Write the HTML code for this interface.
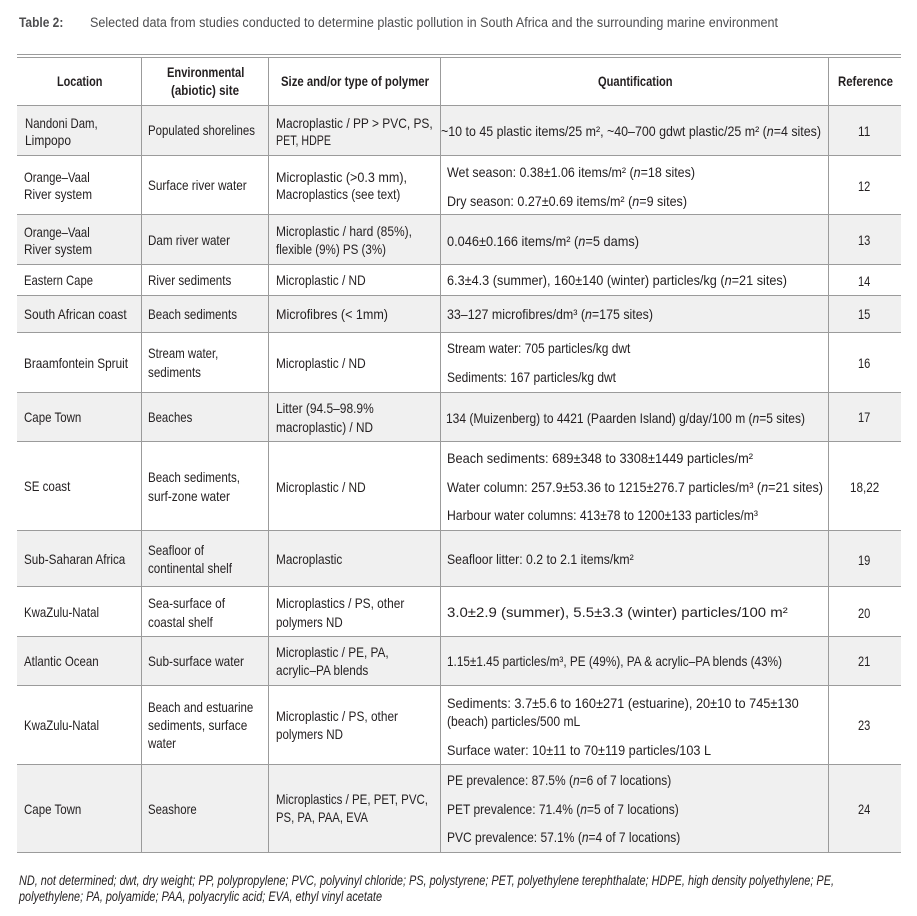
<!DOCTYPE html>
<html><head><meta charset="utf-8">
<style>
html,body{margin:0;padding:0;}
body{width:917px;height:916px;position:relative;overflow:hidden;background:#fff;font-family:"Liberation Sans",Arial,sans-serif;color:#231f20;}
.t{position:absolute;white-space:nowrap;font-size:14px;line-height:16px;transform-origin:0 50%;transform:scaleX(0.82);}
.b{font-weight:bold;}
.h{position:absolute;left:17px;width:884px;height:1px;background:#9b9b9b;}
.v{position:absolute;top:57px;height:795px;width:1px;background:#9b9b9b;}
.g{position:absolute;left:17px;width:884px;background:#f0f0f0;}
.fn{font-size:13.5px;font-style:italic;}
.ti{color:#4d4d4f;font-size:13.5px;}
</style></head><body>
<!-- gray rows -->
<div class="g" style="top:105px;height:50px"></div>
<div class="g" style="top:214px;height:50px"></div>
<div class="g" style="top:295px;height:37px"></div>
<div class="g" style="top:392px;height:49px"></div>
<div class="g" style="top:530px;height:56px"></div>
<div class="g" style="top:636px;height:49px"></div>
<div class="g" style="top:764px;height:88px"></div>
<!-- horizontal rules -->
<div class="h" style="top:54px"></div>
<div class="h" style="top:57px"></div>
<div class="h" style="top:105px"></div>
<div class="h" style="top:155px"></div>
<div class="h" style="top:214px"></div>
<div class="h" style="top:264px"></div>
<div class="h" style="top:295px"></div>
<div class="h" style="top:332px"></div>
<div class="h" style="top:392px"></div>
<div class="h" style="top:441px"></div>
<div class="h" style="top:530px"></div>
<div class="h" style="top:586px"></div>
<div class="h" style="top:636px"></div>
<div class="h" style="top:685px"></div>
<div class="h" style="top:764px"></div>
<div class="h" style="top:852px"></div>
<!-- vertical rules -->
<div class="v" style="left:141px"></div>
<div class="v" style="left:268px"></div>
<div class="v" style="left:440px"></div>
<div class="v" style="left:828px"></div>

<!-- title -->
<div class="t b ti" style="left:19px;top:15px;--w:44.3">Table 2:</div>
<div class="t ti" style="left:90px;top:15px;--w:688">Selected data from studies conducted to determine plastic pollution in South Africa and the surrounding marine environment</div>

<!-- header -->
<div class="t b" style="left:57.3px;top:73px;--w:45.4">Location</div>
<div class="t b" style="left:166.7px;top:63.7px;--w:77.3">Environmental</div>
<div class="t b" style="left:171px;top:82px;--w:68">(abiotic) site</div>
<div class="t b" style="left:281px;top:73px;--w:148">Size and/or type of polymer</div>
<div class="t b" style="left:597.7px;top:73px;--w:74.6">Quantification</div>
<div class="t b" style="left:837.7px;top:73px;--w:55">Reference</div>

<!-- row 1 -->
<div class="t" style="left:25px;top:114.7px;--w:72.7">Nandoni Dam,</div>
<div class="t" style="left:25px;top:132px;--w:46">Limpopo</div>
<div class="t" style="left:148.3px;top:122px;--w:107">Populated shorelines</div>
<div class="t" style="left:275.7px;top:114.7px;--w:156.7">Macroplastic / PP &gt; PVC, PS,</div>
<div class="t" style="left:275.7px;top:132px;--w:55">PET, HDPE</div>
<div class="t" style="left:441px;top:123px;--w:380">~10 to 45 plastic items/25 m², ~40–700 gdwt plastic/25 m² (<i>n</i>=4 sites)</div>
<div class="t" style="left:858px;top:123px;--w:12.3">11</div>

<!-- row 2 -->
<div class="t" style="left:24.3px;top:168.7px;--w:65.7">Orange–Vaal</div>
<div class="t" style="left:24.3px;top:186.3px;--w:68">River system</div>
<div class="t" style="left:148px;top:177px;--w:98.7">Surface river water</div>
<div class="t" style="left:275.7px;top:168.7px;--w:131">Microplastic (&gt;0.3 mm),</div>
<div class="t" style="left:275.7px;top:186.3px;--w:124.3">Macroplastics (see text)</div>
<div class="t" style="left:446.7px;top:163.7px;--w:248">Wet season: 0.38±1.06 items/m² (<i>n</i>=18 sites)</div>
<div class="t" style="left:446.7px;top:192.7px;--w:240">Dry season: 0.27±0.69 items/m² (<i>n</i>=9 sites)</div>
<div class="t" style="left:858px;top:177.7px;--w:12.3">12</div>

<!-- row 3 -->
<div class="t" style="left:24.3px;top:223.7px;--w:65.7">Orange–Vaal</div>
<div class="t" style="left:24.3px;top:241.3px;--w:68">River system</div>
<div class="t" style="left:148px;top:232px;--w:82">Dam river water</div>
<div class="t" style="left:275.7px;top:223px;--w:136">Microplastic / hard (85%),</div>
<div class="t" style="left:275.7px;top:241.3px;--w:110">flexible (9%) PS (3%)</div>
<div class="t" style="left:446.7px;top:232.7px;--w:192">0.046±0.166 items/m² (<i>n</i>=5 dams)</div>
<div class="t" style="left:858px;top:232px;--w:12.3">13</div>

<!-- row 4 -->
<div class="t" style="left:24.3px;top:272px;--w:69">Eastern Cape</div>
<div class="t" style="left:148px;top:272px;--w:83.3">River sediments</div>
<div class="t" style="left:275.7px;top:272px;--w:89.7">Microplastic / ND</div>
<div class="t" style="left:446.7px;top:272px;--w:340">6.3±4.3 (summer), 160±140 (winter) particles/kg (<i>n</i>=21 sites)</div>
<div class="t" style="left:858px;top:272.7px;--w:12.3">14</div>

<!-- row 5 -->
<div class="t" style="left:24.3px;top:306px;--w:102.7">South African coast</div>
<div class="t" style="left:148px;top:306px;--w:89">Beach sediments</div>
<div class="t" style="left:275.7px;top:306px;--w:112">Microfibres (&lt; 1mm)</div>
<div class="t" style="left:446.7px;top:306px;--w:206">33–127 microfibres/dm³ (<i>n</i>=175 sites)</div>
<div class="t" style="left:858px;top:306px;--w:12.3">15</div>

<!-- row 6 -->
<div class="t" style="left:24.3px;top:355.3px;--w:104">Braamfontein Spruit</div>
<div class="t" style="left:148px;top:345.3px;--w:70.3">Stream water,</div>
<div class="t" style="left:148px;top:363.7px;--w:53">sediments</div>
<div class="t" style="left:275.7px;top:355px;--w:89.7">Microplastic / ND</div>
<div class="t" style="left:446.7px;top:340.3px;--w:183.3">Stream water: 705 particles/kg dwt</div>
<div class="t" style="left:446.7px;top:369.3px;--w:169">Sediments: 167 particles/kg dwt</div>
<div class="t" style="left:858px;top:355.3px;--w:12.3">16</div>

<!-- row 7 -->
<div class="t" style="left:24.3px;top:409.3px;--w:57.3">Cape Town</div>
<div class="t" style="left:148px;top:409.3px;--w:44.3">Beaches</div>
<div class="t" style="left:275.7px;top:400.3px;--w:97.7">Litter (94.5–98.9%</div>
<div class="t" style="left:275.7px;top:418.7px;--w:97">macroplastic) / ND</div>
<div class="t" style="left:445.7px;top:409.7px;--w:359">134 (Muizenberg) to 4421 (Paarden Island) g/day/100 m (<i>n</i>=5 sites)</div>
<div class="t" style="left:858px;top:408.7px;--w:12.3">17</div>

<!-- row 8 -->
<div class="t" style="left:24.3px;top:478px;--w:46.3">SE coast</div>
<div class="t" style="left:148px;top:469.3px;--w:92">Beach sediments,</div>
<div class="t" style="left:148px;top:488px;--w:82">surf-zone water</div>
<div class="t" style="left:275.7px;top:478.7px;--w:89.7">Microplastic / ND</div>
<div class="t" style="left:446.7px;top:450.3px;--w:306">Beach sediments: 689±348 to 3308±1449 particles/m²</div>
<div class="t" style="left:446.7px;top:478.7px;--w:376">Water column: 257.9±53.36 to 1215±276.7 particles/m³ (<i>n</i>=21 sites)</div>
<div class="t" style="left:446.7px;top:507px;--w:311">Harbour water columns: 413±78 to 1200±133 particles/m³</div>
<div class="t" style="left:850px;top:479px;--w:29.3">18,22</div>

<!-- row 9 -->
<div class="t" style="left:24.3px;top:551px;--w:101.3">Sub-Saharan Africa</div>
<div class="t" style="left:148px;top:542px;--w:56">Seafloor of</div>
<div class="t" style="left:148px;top:560.3px;--w:84">continental shelf</div>
<div class="t" style="left:275.7px;top:551px;--w:66.3">Macroplastic</div>
<div class="t" style="left:446.7px;top:551px;--w:186.7">Seafloor litter: 0.2 to 2.1 items/km²</div>
<div class="t" style="left:858px;top:552px;--w:12.3">19</div>

<!-- row 10 -->
<div class="t" style="left:24.3px;top:604.3px;--w:75">KwaZulu-Natal</div>
<div class="t" style="left:148px;top:595.3px;--w:77">Sea-surface of</div>
<div class="t" style="left:148px;top:613.7px;--w:64.7">coastal shelf</div>
<div class="t" style="left:275.7px;top:595.3px;--w:128.3">Microplastics / PS, other</div>
<div class="t" style="left:275.7px;top:613.7px;--w:66.7">polymers ND</div>
<div class="t" style="left:446.7px;top:604.3px;--w:340.7">3.0±2.9 (summer), 5.5±3.3 (winter) particles/100 m²</div>
<div class="t" style="left:858px;top:604.7px;--w:12.3">20</div>

<!-- row 11 -->
<div class="t" style="left:24.3px;top:653px;--w:74.7">Atlantic Ocean</div>
<div class="t" style="left:148px;top:653px;--w:96">Sub-surface water</div>
<div class="t" style="left:275.7px;top:644.3px;--w:112.7">Microplastic / PE, PA,</div>
<div class="t" style="left:275.7px;top:662px;--w:92.3">acrylic–PA blends</div>
<div class="t" style="left:446.7px;top:653px;--w:335">1.15±1.45 particles/m³, PE (49%), PA &amp; acrylic–PA blends (43%)</div>
<div class="t" style="left:858px;top:653px;--w:12.3">21</div>

<!-- row 12 -->
<div class="t" style="left:24.3px;top:717px;--w:75">KwaZulu-Natal</div>
<div class="t" style="left:148px;top:698.7px;--w:105.3">Beach and estuarine</div>
<div class="t" style="left:148px;top:717px;--w:99.3">sediments, surface</div>
<div class="t" style="left:148px;top:735.3px;--w:28">water</div>
<div class="t" style="left:275.7px;top:708px;--w:122">Microplastic / PS, other</div>
<div class="t" style="left:275.7px;top:726px;--w:67">polymers ND</div>
<div class="t" style="left:446.7px;top:694.7px;--w:351.7">Sediments: 3.7±5.6 to 160±271 (estuarine), 20±10 to 745±130</div>
<div class="t" style="left:446.7px;top:713px;--w:133.3">(beach) particles/500 mL</div>
<div class="t" style="left:446.7px;top:742px;--w:264">Surface water: 10±11 to 70±119 particles/103 L</div>
<div class="t" style="left:858px;top:717px;--w:12.3">23</div>

<!-- row 13 -->
<div class="t" style="left:24.3px;top:801.3px;--w:57.3">Cape Town</div>
<div class="t" style="left:148px;top:801.3px;--w:48.7">Seashore</div>
<div class="t" style="left:275.7px;top:791px;--w:152">Microplastics / PE, PET, PVC,</div>
<div class="t" style="left:275.7px;top:809.3px;--w:92">PS, PA, PAA, EVA</div>
<div class="t" style="left:446.7px;top:772px;--w:224.3">PE prevalence: 87.5% (<i>n</i>=6 of 7 locations)</div>
<div class="t" style="left:446.7px;top:801.3px;--w:231.7">PET prevalence: 71.4% (<i>n</i>=5 of 7 locations)</div>
<div class="t" style="left:446.7px;top:828.7px;--w:233.3">PVC prevalence: 57.1% (<i>n</i>=4 of 7 locations)</div>
<div class="t" style="left:858px;top:801.3px;--w:12.3">24</div>

<!-- footnote -->
<div class="t fn" style="left:19px;top:872.7px;--w:815">ND, not determined; dwt, dry weight; PP, polypropylene; PVC, polyvinyl chloride; PS, polystyrene; PET, polyethylene terephthalate; HDPE, high density polyethylene; PE,</div>
<div class="t fn" style="left:19px;top:889.3px;--w:363">polyethylene; PA, polyamide; PAA, polyacrylic acid; EVA, ethyl vinyl acetate</div>

<script>
(function(){
  var els=document.querySelectorAll('.t');
  for(var i=0;i<els.length;i++){
    var el=els[i];
    var w=parseFloat(el.style.getPropertyValue('--w'));
    if(!w) continue;
    el.style.transform='none';
    var n=el.getBoundingClientRect().width;
    if(n>0){el.style.transform='scaleX('+(w/n)+')';}
    else{el.style.transform='scaleX(0.82)';}
  }
})();
</script>
</body></html>
